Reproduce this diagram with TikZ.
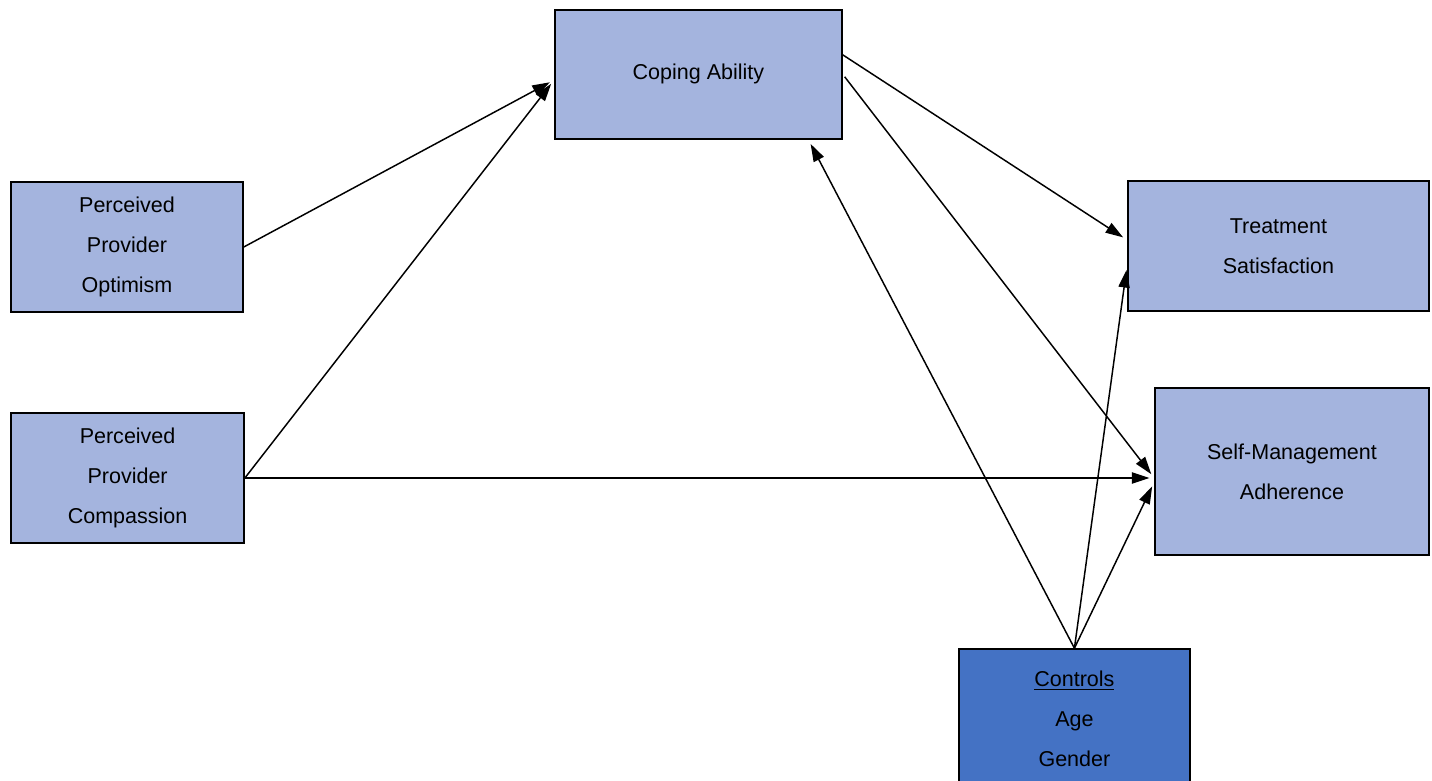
\documentclass[tikz,border=0pt]{standalone}
\usepackage{fontspec}
\setmainfont{Liberation Sans}
\usepackage{tikz}
\usetikzlibrary{arrows.meta, positioning, calc}
\definecolor{boxblue}{RGB}{164, 180, 222}
\definecolor{ctrlblue}{RGB}{68, 114, 196}

\tikzset{
  varbox/.style={draw=black, line width=1.1pt, fill=boxblue, align=center,
    font=\fontsize{15.3}{28.4}\selectfont, inner sep=0pt},
  path/.style={-{Triangle[length=0.44cm, width=0.28cm]}, line width=1.05pt, shorten >=0.12cm}
}

\begin{document}
\begin{tikzpicture}
  \useasboundingbox (0,0) rectangle (35.8,19.5);

  % Variables
  \node[varbox, minimum width=7.175cm, minimum height=3.225cm] (coping) at (17.46, 17.64) {Coping Ability};
  \node[varbox, minimum width=5.8cm, minimum height=3.25cm] (optimism) at (3.175, 13.325) {Perceived\\Provider\\Optimism};
  \node[varbox, minimum width=5.825cm, minimum height=3.25cm] (compassion) at (3.19, 7.55) {Perceived\\Provider\\Compassion};
  \node[varbox, minimum width=7.525cm, minimum height=3.25cm] (treat) at (31.96, 13.35) {Treatment\\Satisfaction};
  \node[varbox, minimum width=6.85cm, minimum height=4.175cm] (selfmgmt) at (32.3, 7.71) {Self-Management\\Adherence};
  \node[varbox, fill=ctrlblue, minimum width=5.775cm, minimum height=3.5cm] (controls) at (26.86, 1.525) {\underline{Controls}\\Age\\Gender};

  % Paths
  \draw[path] (optimism.east) -- ($(coping.west)+(0,-0.14)$);
  \draw[path] (compassion.east) -- ($(coping.west)+(0,-0.14)$);
  \draw[path] (compassion.east) -- (selfmgmt.west |- compassion.east);
  \draw[path] ($(coping.east)+(0,0.49)$) -- ($(treat.west)+(0,0.15)$);
  \draw[path] ($(coping.east)+(0.05,-0.06)$) -- (selfmgmt.west |- compassion.east);

  % Controls
  \draw[path] (controls.north) -- ($(coping.south)+(2.75,0)$);
  \draw[path] (controls.north) -- ($(treat.west)+(0,-0.48)$);
  \draw[path] (controls.north) -- ($(selfmgmt.west)+(0,-0.26)$);
\end{tikzpicture}
\end{document}
